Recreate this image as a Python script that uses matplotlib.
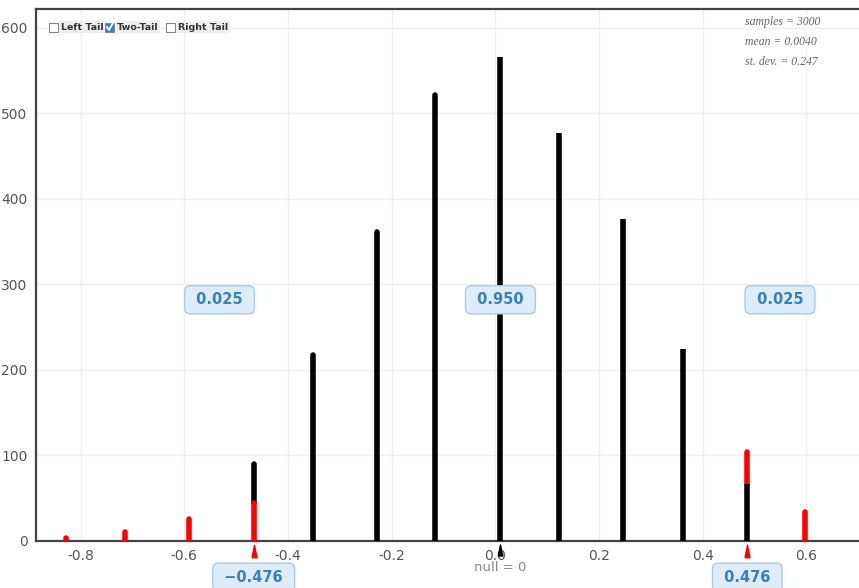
import matplotlib.pyplot as plt
from matplotlib.patches import Rectangle
from matplotlib.lines import Line2D
import numpy as np

# bin centres and counts
centers = [-0.828, -0.714, -0.590, -0.466, -0.352, -0.228, -0.116,
           0.0097, 0.122, 0.246, 0.362, 0.486, 0.598]
counts = [4, 10, 26, 90, 217, 361, 522, 566, 477, 377, 225, 104, 34]
# portion of each bar that lies beyond the cut-offs (red)
tail_counts = [4, 10, 26, 45, 0, 0, 0, 0, 0, 0, 0, 37, 34]

# cut-off labels and where they sit on the axis (on the split bars)
cut_labels = ["\u22120.476", "0.476"]
cut_x = [-0.466, 0.486]
null_x = 0.0097
area_labels = ["0.025", "0.950", "0.025"]
area_x = [-0.532, 0.0097, 0.549]
stats = ["samples = 3000", "mean = 0.0040", "st. dev. = 0.247"]

fig = plt.figure(figsize=(8.59, 5.88), dpi=100)
ax = fig.add_axes([36 / 859, 1 - 541 / 588, 1 - 36 / 859 + 0.01, (541 - 9) / 588])
ax.set_xlim(-0.886, 0.718)
ax.set_ylim(0, 622)

ax.set_xticks(np.arange(-0.8, 0.61, 0.2))
ax.set_xticklabels(["-0.8", "-0.6", "-0.4", "-0.2", "0.0", "0.2", "0.4", "0.6"])
ax.set_yticks(range(0, 601, 100))
ax.grid(True, color="#efefef", linewidth=1)
ax.set_axisbelow(True)
ax.tick_params(length=0, labelsize=10, labelcolor="#555555", pad=6)
for side in ["left", "bottom", "top"]:
    ax.spines[side].set_color("#444444")
    ax.spines[side].set_linewidth(1.6)
ax.spines["right"].set_visible(False)

bw = 4.0
for c, n, t in zip(centers, counts, tail_counts):
    if c < 0:
        # red part at the bottom, black above
        if n > t:
            ax.vlines(c, t, n, color="black", linewidth=bw, capstyle="round", zorder=3)
        if t > 0:
            ax.vlines(c, 0, t, color="red", linewidth=bw, capstyle="round", zorder=4)
    else:
        if t > 0:
            ax.vlines(c, n - t, n, color="red", linewidth=bw, capstyle="round", zorder=3)
        if n > t:
            ax.vlines(c, 0, n - t, color="black", linewidth=bw, capstyle="butt", zorder=4)

# thin spike markers under the axis
spike = [(-0.4, -1), (0.4, -1), (0, 1), (-0.4, -1)]
trans = ax.get_xaxis_transform()
ax.plot(cut_x, [-0.019] * len(cut_x), marker=spike, color="red", markersize=9,
        linestyle="none", transform=trans, clip_on=False, zorder=5)
ax.plot([null_x], [-0.017], marker=spike, color="black", markersize=8,
        linestyle="none", transform=trans, clip_on=False, zorder=5)
ax.text(null_x, -0.05, "null = 0", transform=trans, ha="center", va="center",
        fontsize=9.5, color="#888888")

box = dict(boxstyle="round,pad=0.45,rounding_size=0.4", facecolor="#dcedf9",
           edgecolor="#a9cbe6", linewidth=1)
for x, s in zip(area_x, area_labels):
    ax.text(x, 282, " " + s + " ", ha="center", va="center", fontsize=10.5,
            fontweight="bold", color="#3a7fb5", bbox=box, zorder=6)
for x, s in zip(cut_x, cut_labels):
    ax.text(x, -0.068, " " + s + " ", transform=trans, ha="center", va="center",
            fontsize=10.5, fontweight="bold", color="#3a7fb5", bbox=box,
            clip_on=False, zorder=6)

# stats in the corner
for i, s in enumerate(stats):
    fig.text(745 / 859, 1 - (22 + 20 * i) / 588, s, ha="left", va="center",
             fontsize=8.5, style="italic", family="Liberation Serif", color="#666666")

# checkboxes
boxes = [(49, "Left Tail", False), (105, "Two-Tail", True), (166, "Right Tail", False)]
for x0, label, checked in boxes:
    fc = "#3d7cc9" if checked else "white"
    fig.patches.append(Rectangle((x0 / 859, 1 - 32 / 588), 9 / 859, 9 / 588,
                                 transform=fig.transFigure, facecolor=fc,
                                 edgecolor="#888888", linewidth=0.8))
    if checked:
        fig.lines.append(Line2D([(x0 + 2) / 859, (x0 + 4) / 859, (x0 + 8) / 859],
                                [1 - 27 / 588, 1 - 30 / 588, 1 - 23 / 588],
                                transform=fig.transFigure, color="white", linewidth=1.3))
    fig.text((x0 + 12) / 859, 1 - 27 / 588, label, ha="left", va="center",
             fontsize=6.8, fontweight="bold", color="#333333",
             bbox=dict(boxstyle="square,pad=0.15", facecolor="#eeeeee", edgecolor="none"))

fig.savefig("out.png", dpi=100)
